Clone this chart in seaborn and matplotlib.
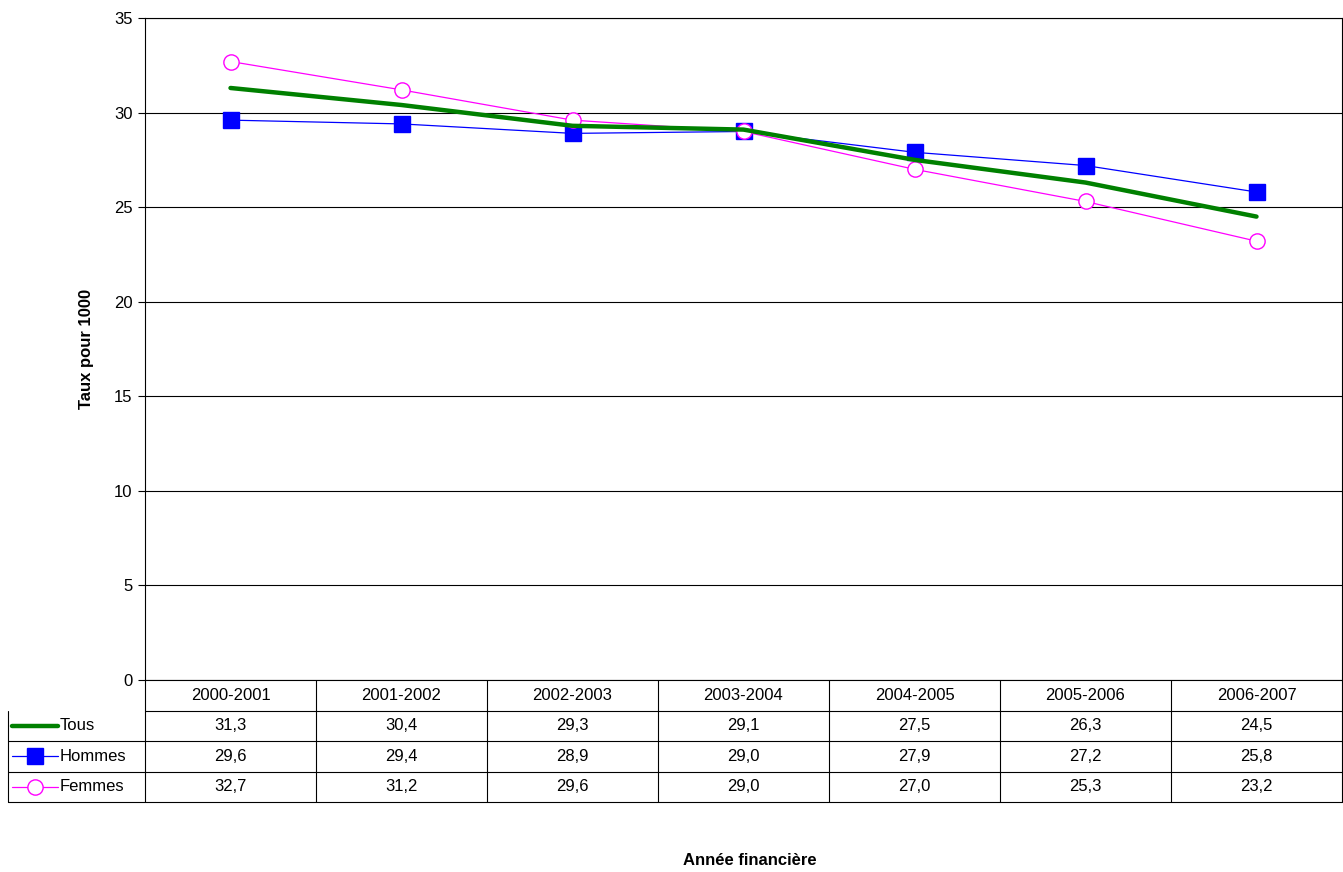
import matplotlib
matplotlib.use('Agg')
import matplotlib.pyplot as plt
from matplotlib.lines import Line2D
import seaborn as sns
import pandas as pd

years = ['2000-2001', '2001-2002', '2002-2003', '2003-2004', '2004-2005', '2005-2006', '2006-2007']
tous = [31.3, 30.4, 29.3, 29.1, 27.5, 26.3, 24.5]
hommes = [29.6, 29.4, 28.9, 29.0, 27.9, 27.2, 25.8]
femmes = [32.7, 31.2, 29.6, 29.0, 27.0, 25.3, 23.2]
series_names = ['Tous', 'Hommes', 'Femmes']

sns.set_style('white')
plt.rcParams['font.family'] = ['Liberation Sans', 'DejaVu Sans']
plt.rcParams['text.color'] = 'black'
plt.rcParams['axes.labelcolor'] = 'black'
plt.rcParams['ytick.color'] = 'black'

fig = plt.figure(figsize=(13.43, 8.72), dpi=100)
ax = fig.add_axes([145 / 1343, 1 - 680 / 872, 1197 / 1343, 662 / 872])

x = list(range(len(years)))
df = pd.DataFrame({'x': x * 3,
                   'v': tous + hommes + femmes,
                   's': sum([[n] * len(years) for n in series_names], [])})

styles = {
    'Tous': dict(color='#008000', lw=3.2, marker=None, ms=0, mfc='#008000'),
    'Hommes': dict(color='#0000FF', lw=0.9, marker='s', ms=11, mfc='#0000FF'),
    'Femmes': dict(color='#FF00FF', lw=0.9, marker='o', ms=11, mfc='white'),
}
for name in ['Hommes', 'Femmes', 'Tous']:
    st = styles[name]
    sub = df[df.s == name]
    sns.lineplot(data=sub, x='x', y='v', ax=ax, color=st['color'], linewidth=st['lw'],
                 marker=st['marker'], markersize=st['ms'], markerfacecolor=st['mfc'],
                 markeredgecolor=st['color'], markeredgewidth=1, zorder=3 if name == 'Tous' else 2)

ax.set_xlim(-0.5, len(years) - 0.5)
ax.set_ylim(0, 35)
ax.set_yticks(range(0, 36, 5))
ax.set_xticks([])
ax.set_xlabel('')
ax.set_ylabel('Taux pour 1000', fontsize=12, fontweight='bold', labelpad=14)
ax.yaxis.grid(True, color='black', linewidth=0.8)
ax.tick_params(axis='y', labelsize=12, length=5, width=0.8, direction='out', left=True, pad=4)
for sp in ax.spines.values():
    sp.set_color('black')
    sp.set_linewidth(0.8)

# data table below the axes
rh = 30.5 / 662
left = (8 - 145) / 1197
tr = ax.transAxes
kw = dict(transform=tr, clip_on=False, color='black', linewidth=0.8)
for r in range(1, 5):
    y0 = -r * rh
    ax.add_line(Line2D([left if r > 1 else 0, 1], [y0, y0], **kw))
ax.add_line(Line2D([left, left], [-4 * rh, -rh], **kw))
for i in range(len(years) + 1):
    xc = i / len(years)
    ax.add_line(Line2D([xc, xc], [-4 * rh, 0], **kw))
for i, yr in enumerate(years):
    ax.text((i + 0.5) / len(years), -0.5 * rh, yr, transform=tr, ha='center', va='center', fontsize=12)
for r, (name, vals) in enumerate(zip(series_names, [tous, hommes, femmes])):
    yc = -(r + 1.5) * rh
    st = styles[name]
    kx0, kx1 = left + 0.003, left + 0.042
    ax.add_line(Line2D([kx0, kx1], [yc, yc], transform=tr, clip_on=False, color=st['color'], linewidth=st['lw']))
    if st['marker']:
        ax.add_line(Line2D([(kx0 + kx1) / 2], [yc], transform=tr, clip_on=False, marker=st['marker'],
                           markersize=st['ms'], markerfacecolor=st['mfc'], markeredgecolor=st['color'],
                           linestyle='none'))
    ax.text(kx1 + 0.001, yc, name, transform=tr, ha='left', va='center', fontsize=12)
    for i, v in enumerate(vals):
        ax.text((i + 0.5) / len(years), yc, f'{v:.1f}'.replace('.', ','), transform=tr,
                ha='center', va='center', fontsize=12)

fig.text(750 / 1343, 1 - 860 / 872, 'Année financière', ha='center', va='center', fontsize=12, fontweight='bold')

fig.savefig('out.png', dpi=100)
